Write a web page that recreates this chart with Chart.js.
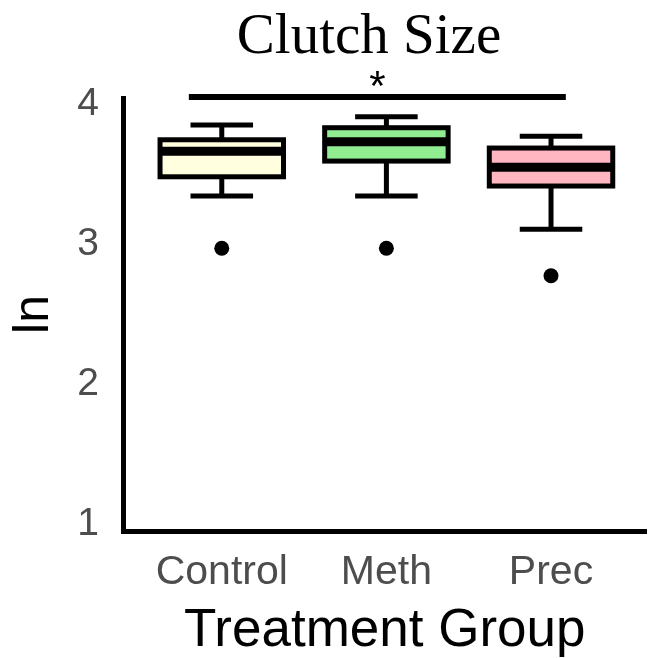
<!DOCTYPE html>
<html lang="en">
<head>
<meta charset="UTF-8">
<title>Clutch Size</title>
<script src="https://cdn.jsdelivr.net/npm/chart.js"></script>
<style>
  html, body { margin: 0; padding: 0; background: #fff; }
  #wrap { width: 654px; height: 658px; }
</style>
</head>
<body>
<div id="wrap"><canvas id="myChart" width="654" height="658"></canvas></div>
<script>
// data (ln of clutch size)
const groups = ['Control', 'Meth', 'Prec'];
const whiskerLow = [3.344, 3.344, 3.106];
const q1 = [3.481, 3.593, 3.415];
const median = [3.663, 3.731, 3.549];
const q3 = [3.745, 3.831, 3.686];
const whiskerHigh = [3.850, 3.909, 3.770];
const outliers = [2.971, 2.971, 2.775];
const boxColors = ['#FFFFE0', '#90EE90', '#FFB6C1'];
const yTicks = [1, 2, 3, 4];
// significance bar (Control vs Prec)
const sigFrom = -0.2, sigTo = 2.09, sigY = 4.05, sigLabel = '*';

const sans = "'Liberation Sans', Arial, sans-serif";

function seg(ctx, x1, y1, x2, y2) {
    ctx.beginPath();
    ctx.moveTo(x1, y1);
    ctx.lineTo(x2, y2);
    ctx.stroke();
}

const boxPlot = {
    id: 'boxPlot',
    beforeDatasetsDraw(chart) {
        const { ctx, scales: { x, y } } = chart;
        ctx.save();
        ctx.strokeStyle = '#000';
        ctx.lineCap = 'butt';
        groups.forEach((g, i) => {
            const cx = x.getPixelForValue(i);
            const l = x.getPixelForValue(i - 0.375);
            const r = x.getPixelForValue(i + 0.375);
            const cl = x.getPixelForValue(i - 0.19);
            const cr = x.getPixelForValue(i + 0.19);
            const yLo = y.getPixelForValue(whiskerLow[i]);
            const yHi = y.getPixelForValue(whiskerHigh[i]);
            const yQ1 = y.getPixelForValue(q1[i]);
            const yQ3 = y.getPixelForValue(q3[i]);
            const yMed = y.getPixelForValue(median[i]);

            ctx.lineWidth = 5;
            seg(ctx, cx, yLo, cx, yQ1);
            seg(ctx, cx, yQ3, cx, yHi);
            seg(ctx, cl, yLo, cr, yLo);
            seg(ctx, cl, yHi, cr, yHi);

            ctx.fillStyle = boxColors[i];
            ctx.fillRect(l, yQ3, r - l, yQ1 - yQ3);
            ctx.strokeRect(l, yQ3, r - l, yQ1 - yQ3);

            ctx.lineWidth = 9;
            seg(ctx, l, yMed, r, yMed);
        });
        ctx.restore();
    },
    afterDraw(chart) {
        const { ctx, scales: { x, y } } = chart;
        ctx.save();
        // title
        ctx.fillStyle = '#000';
        ctx.font = "57px 'Liberation Serif', 'Times New Roman', serif";
        ctx.textAlign = 'center';
        ctx.textBaseline = 'alphabetic';
        ctx.fillText('Clutch Size', 369, 53);
        // significance bar
        ctx.strokeStyle = '#000';
        ctx.lineWidth = 6;
        const yy = y.getPixelForValue(sigY);
        seg(ctx, x.getPixelForValue(sigFrom), yy, x.getPixelForValue(sigTo), yy);
        ctx.font = '42px ' + sans;
        ctx.fillText(sigLabel, x.getPixelForValue((sigFrom + sigTo) / 2), yy + 3);
        ctx.restore();
    }
};

const ctx = document.getElementById('myChart').getContext('2d');
const myChart = new Chart(ctx, {
    type: 'scatter',
    data: {
        datasets: [{
            data: outliers.map((v, i) => ({ x: i, y: v })),
            backgroundColor: '#000',
            borderWidth: 0,
            pointRadius: 7.5,
            pointHoverRadius: 7.5
        }]
    },
    options: {
        responsive: false,
        animation: false,
        layout: { padding: { top: 98, left: 0, right: 0, bottom: 0 } },
        plugins: {
            legend: { display: false },
            tooltip: { enabled: false }
        },
        scales: {
            x: {
                type: 'linear',
                min: -0.6,
                max: 2.58,
                afterBuildTicks: s => { s.ticks = groups.map((g, i) => ({ value: i })); },
                afterFit: s => { s.height = 127; },
                ticks: {
                    callback: v => groups[v],
                    color: '#4d4d4d',
                    font: { family: sans, size: 41 },
                    padding: 9,
                    maxRotation: 0,
                    autoSkip: false
                },
                grid: { display: false },
                border: { display: true, color: '#000', width: 5 },
                title: {
                    display: true,
                    text: 'Treatment Group',
                    color: '#000',
                    font: { family: sans, size: 53, lineHeight: 1.0 },
                    padding: { top: 0, bottom: 0 }
                }
            },
            y: {
                min: 0.954,
                max: 4.043,
                afterBuildTicks: s => { s.ticks = yTicks.map(v => ({ value: v })); },
                afterFit: s => { s.width = 123; },
                ticks: {
                    color: '#4d4d4d',
                    font: { family: sans, size: 39 },
                    padding: 16
                },
                grid: { display: false },
                border: { display: true, color: '#000', width: 5 },
                title: {
                    display: true,
                    text: 'ln',
                    color: '#000',
                    font: { family: sans, size: 50 },
                    padding: { top: 4, bottom: 4 }
                }
            }
        }
    },
    plugins: [boxPlot]
});
</script>
</body>
</html>
